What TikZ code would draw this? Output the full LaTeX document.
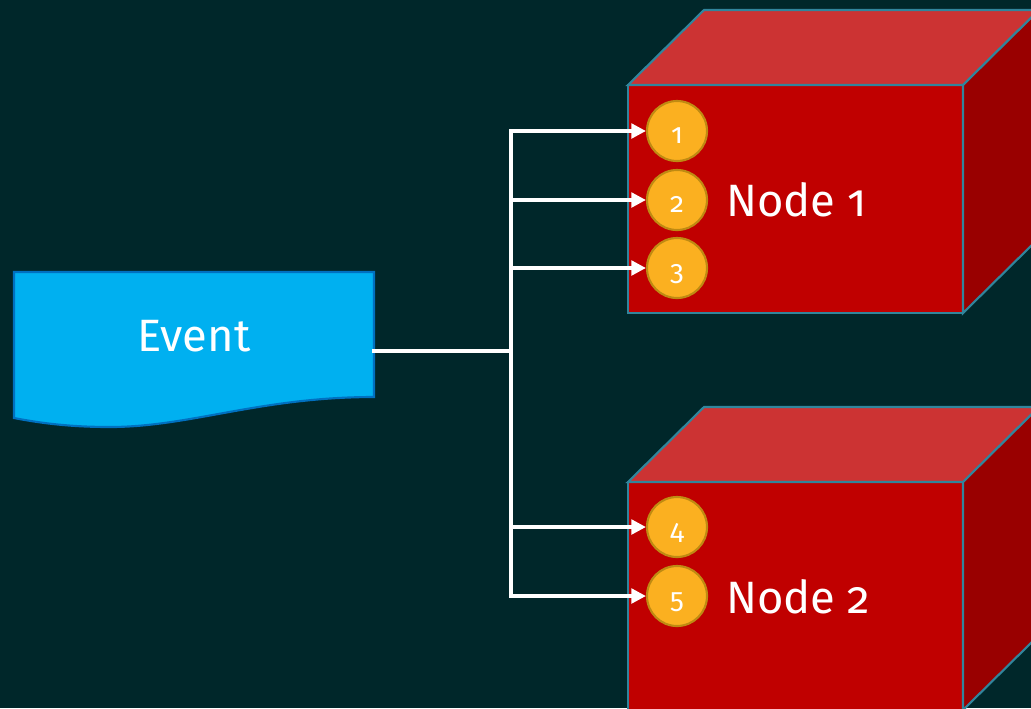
\documentclass[tikz,border=0pt]{standalone}
\usepackage{fontspec}
\setmainfont[Numbers=OldStyle]{Fira Sans}
\usetikzlibrary{arrows.meta}
\definecolor{bgdark}{HTML}{00272A}
\definecolor{eventblue}{HTML}{00B0F0}
\definecolor{eventedge}{HTML}{0070C0}
\definecolor{cubefront}{HTML}{C00000}
\definecolor{cubetop}{HTML}{CC3333}
\definecolor{cubeside}{HTML}{990000}
\definecolor{cubeedge}{HTML}{31859C}
\definecolor{portgold}{HTML}{FBB020}
\definecolor{portedge}{HTML}{BF8A12}
\begin{document}
\begin{tikzpicture}[x=0.75pt, y=-0.75pt,
		event/.style = {fill=eventblue, draw=eventedge, line width=1.6pt},
		face/.style = {draw=cubeedge, line width=1.6pt},
		nodetext/.style = {text=white, inner sep=0pt, font=\fontsize{34}{40}\selectfont},
		port/.style = {circle, fill=portgold, draw=portedge, line width=1.6pt,
			minimum size=45pt, inner sep=0pt, text=white,
			font=\fontsize{21}{24}\selectfont, text height=18pt, text depth=0pt},
		wire/.style = {draw=white, line width=2.6pt, line cap=rect},
		feed/.style = {wire, -{Triangle[length=11pt, width=11pt]}}]
		\useasboundingbox (0,0) rectangle (1031,708);
		\fill[bgdark] (0,0) rectangle (1031,708);
		\clip (0,0) rectangle (1031,708);
		\path[event] (14,272) -- (374,272) -- (374,397)
			.. controls (260,397) and (190,427) .. (110,427)
			.. controls (80,427) and (50,425) .. (14,418) -- cycle;
		\node[nodetext, anchor=base] (evt) at (194,351) {Event};
		\coordinate (evtout) at (374,351);
		\coordinate (hub) at (511,351);
		\foreach \ytop/\num in {85/1, 482/2} {
			\path[face, fill=cubefront] (628,\ytop) rectangle (963,\ytop+228);
			\path[face, fill=cubetop] (628,\ytop) -- (704,\ytop-75) -- (1039,\ytop-75) -- (963,\ytop) -- cycle;
			\path[face, fill=cubeside] (963,\ytop) -- (1039,\ytop-75) -- (1039,\ytop+153) -- (963,\ytop+228) -- cycle;
			\node[nodetext, anchor=base west] (box\num) at (726,\ytop+131) {Node \num};
		}
		\foreach \n/\y in {1/131, 2/200, 3/268, 4/527, 5/596}
			\node[port] (c\n) at (677,\y) {\n};
		\draw[wire, line width=3.5pt] (evtout) -- (hub);
		\draw[wire] (hub |- c1) -- (hub |- c5);
		\foreach \n in {1,...,5}
			\draw[feed] (hub |- c\n) -- (c\n);
\end{tikzpicture}
\end{document}
